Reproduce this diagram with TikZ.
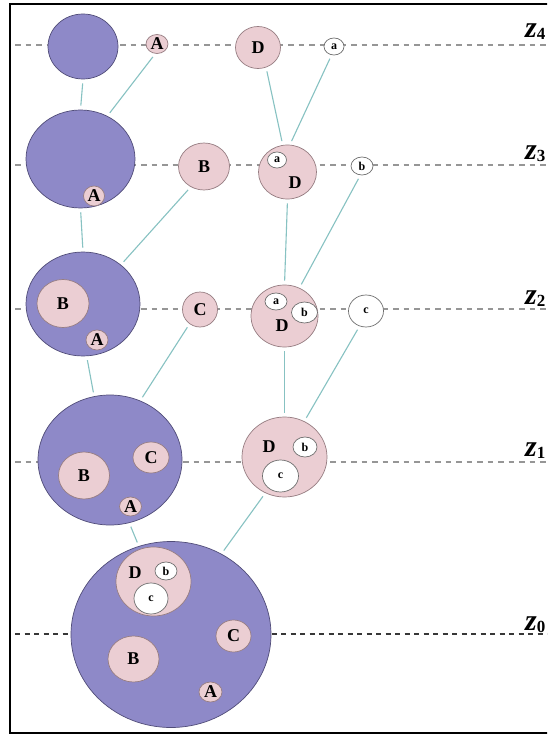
\documentclass[tikz,border=0pt]{standalone}
\usepackage{fontspec}
\setmainfont{Liberation Serif}
\usetikzlibrary{shapes.geometric}
\definecolor{bluefill}{RGB}{142,137,200}
\definecolor{blueline}{RGB}{80,76,120}
\definecolor{pinkfill}{RGB}{235,206,211}
\definecolor{pinkline}{RGB}{150,125,130}
\definecolor{whiteline}{RGB}{110,110,110}
\definecolor{linkc}{RGB}{135,194,194}
\definecolor{dashc}{RGB}{150,150,150}
\definecolor{dashz}{RGB}{55,55,55}
\tikzset{
  sz/.style 2 args={minimum width=#1pt, minimum height=#2pt},
  bub/.style={ellipse, inner sep=0pt, line width=0.7pt},
  bigblue/.style={bub, fill=bluefill, draw=blueline},
  pinkc/.style={bub, fill=pinkfill, draw=pinkline, font=\fontsize{18}{18}\selectfont\bfseries},
  whitec/.style={bub, fill=white, draw=whiteline, font=\fontsize{12}{12}\selectfont\bfseries},
  link/.style={draw=linkc, line width=1.1pt, shorten <=4pt, shorten >=4pt},
  level/.style={draw=dashc, line width=1.1pt, dash pattern=on 5.5pt off 5pt},
  levelzero/.style={draw=dashz, line width=1.3pt, dash pattern=on 5pt off 4.5pt},
  zlab/.style={anchor=base west, inner sep=0pt, font=\fontsize{30}{30}\selectfont\bfseries\itshape},
  dlab/.style={inner sep=0pt, font=\fontsize{18}{18}\selectfont\bfseries}
}
\newcommand{\zsub}[1]{{\fontsize{17}{17}\selectfont\upshape\raisebox{-2pt}{#1}}}
\begin{document}
\begin{tikzpicture}[x=1pt,y=-1pt]
\useasboundingbox (0,0) rectangle (547,735);
\clip (0,0) rectangle (547,735);
\fill[white] (0,0) rectangle (547,735);
% frame (right side falls outside the picture)
\draw[line width=1.8pt, black] (570,4) -- (10,4) -- (10,733) -- (570,733);
% level lines
\draw[level] (15,45) -- (547,45);
\draw[level] (15,165) -- (547,165);
\draw[level] (15,309) -- (547,309);
\draw[level] (15,462) -- (547,462);
\draw[levelzero] (15,634) -- (547,634);
% level labels
\node[zlab] (lz4) at (525,38) {z\zsub{4}};
\node[zlab] (lz3) at (525,160) {z\zsub{3}};
\node[zlab] (lz2) at (525,304) {z\zsub{2}};
\node[zlab] (lz1) at (525,456) {z\zsub{1}};
\node[zlab] (lz0) at (525,630) {z\zsub{0}};
% level z4
\node[bigblue, sz={70}{65}] (blue4) at (83,46.5) {};
\node[pinkc, sz={22}{19}] (A4) at (157,44) {A};
\node[pinkc, sz={45}{42}] (D4) at (258,47.5) {D};
\node[whitec, sz={20}{17}] (a4) at (334,46.5) {a};
% level z3
\node[bigblue, sz={109}{98}] (blue3) at (80.5,159) {};
\node[pinkc, sz={21}{20}] (A3) at (94,196) {A};
\node[pinkc, sz={51}{47}] (B3) at (204,166.5) {B};
\node[pinkc, sz={58}{54}] (D3) at (287.5,172) {};
\node[whitec, sz={19}{16}] (a3) at (277,160) {a};
\node[dlab] (D3l) at (295,183) {D};
\node[whitec, sz={22}{18}] (b3) at (362,166) {b};
% level z2
\node[bigblue, sz={114}{104}] (blue2) at (83,304) {};
\node[pinkc, sz={52}{48}] (B2) at (63,303.5) {B};
\node[pinkc, sz={22}{20}] (A2) at (97,340) {A};
\node[pinkc, sz={35}{35}] (C2) at (200,309.5) {C};
\node[pinkc, sz={67}{62}] (D2) at (284.5,316) {};
\node[whitec, sz={22}{17}] (a2) at (276,301.5) {a};
\node[whitec, sz={26}{21}] (b2) at (304.5,312.5) {b};
\node[dlab] (D2l) at (282,326) {D};
\node[whitec, sz={35}{32}] (c2) at (366,311) {c};
% level z1
\node[bigblue, sz={144}{130}] (blue1) at (110,460) {};
\node[pinkc, sz={51}{47}] (B1) at (84,475.5) {B};
\node[pinkc, sz={36}{31}] (C1) at (151,457.5) {C};
\node[pinkc, sz={22}{19}] (A1) at (130.5,506.5) {A};
\node[pinkc, sz={85}{80}] (D1) at (284.5,457) {};
\node[whitec, sz={24}{20}] (b1) at (305,447) {b};
\node[whitec, sz={36}{32}] (c1) at (280.5,476) {c};
\node[dlab] (D1l) at (269,447) {D};
% level z0
\node[bigblue, sz={200}{186}] (blue0) at (171,634.5) {};
\node[pinkc, sz={75}{69}] (D0) at (153.5,581.5) {};
\node[whitec, sz={22}{18}] (b0) at (166,571) {b};
\node[whitec, sz={34}{31}] (c0) at (151,598.5) {c};
\node[dlab] (D0l) at (135,573) {D};
\node[pinkc, sz={35}{32}] (C0) at (233.5,636) {C};
\node[pinkc, sz={51}{46}] (B0) at (133.5,659) {B};
\node[pinkc, sz={23}{20}] (A0) at (210.5,692) {A};
% connectors
\draw[link] (blue4.south) -- (blue3.north);
\draw[link] (A4.-100) -- (blue3.58);
\draw[link] (B3.-123) -- (blue2.46);
\draw[link] (blue3.south) -- (blue2.north);
\draw[link] (C2.-126) -- (blue1.63);
\draw[link] (blue2.-86) -- (blue1.104);
\draw[link] (blue1.-73) -- (blue0.110);
\draw[link] (D1.-118) -- (blue0.58);
\draw[link] (D4.-68) -- (D3.100);
\draw[link] (a4.-106) -- (D3.85);
\draw[link] (D3.south) -- (D2.north);
\draw[link] (b3.-100) -- (D2.62);
\draw[link] (D2.south) -- (D1.north);
\draw[link] (c2.-113) -- (D1.61);
\end{tikzpicture}
\end{document}
